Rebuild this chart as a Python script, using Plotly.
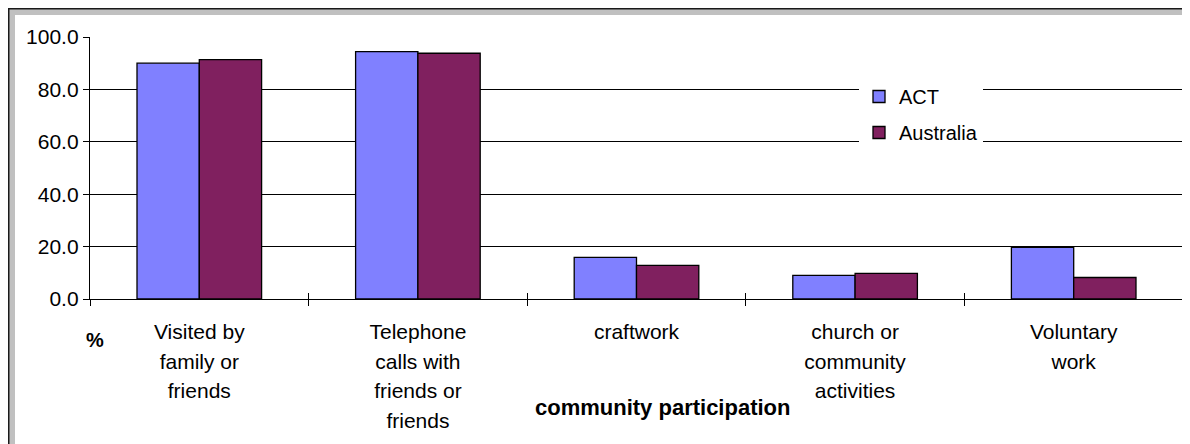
import plotly.graph_objects as go

categories = [
    "Visited by<br>family or<br>friends",
    "Telephone<br>calls with<br>friends or<br>friends",
    "craftwork",
    "church or<br>community<br>activities",
    "Voluntary<br>work",
]
act_values = [90.0, 94.4, 15.9, 9.0, 19.7]
australia_values = [91.4, 93.8, 12.8, 9.8, 8.2]

# the page body has an 8px margin, so the figure starts at (8, 8) in the window
OFF = 8
W, H = 1190 - OFF, 444 - OFF
PLOT_L, PLOT_R, PLOT_T, PLOT_B = 90 - OFF, 1183 - OFF, 37 - OFF, 299 - OFF
FONT = "Liberation Sans, Arial, sans-serif"
LABEL_PX = 21


def px(x):
    # window pixel -> paper x
    return (x - OFF - PLOT_L) / (PLOT_R - PLOT_L)


def py(y):
    # window pixel -> paper y
    return (PLOT_B - (y - OFF)) / (PLOT_B - PLOT_T)


def frame_rect(x0, y0, x1, y1, color):
    return dict(
        type="rect", xref="paper", yref="paper",
        x0=px(x0), x1=px(x1), y0=py(y0), y1=py(y1),
        fillcolor=color, line={"width": 0}, layer="below",
    )


def spaced(label):
    # wider line spacing than plotly's default: big base font, smaller spans
    lines = label.split("<br>")
    return "<br>".join(
        f'<span style="font-size:{LABEL_PX}px">{ln}</span>' for ln in lines
    )


tick_text = [spaced(c) for c in categories]

fig = go.Figure()

fig.add_trace(
    go.Bar(
        x=categories,
        y=act_values,
        name="ACT",
        marker={"color": "#8080FF", "line": {"color": "black", "width": 1.3}},
        legendgroup="act",
    )
)
fig.add_trace(
    go.Bar(
        x=categories,
        y=australia_values,
        name="Australia",
        marker={"color": "#80205F", "line": {"color": "black", "width": 1.3}},
        legendgroup="aus",
    )
)
# empty trace so the overlay axis (inner half of the cross ticks) is drawn
fig.add_trace(
    go.Scatter(x=[], y=[], xaxis="x2", yaxis="y", showlegend=False, hoverinfo="skip")
)

fig.update_layout(
    width=W,
    height=H,
    margin={"l": PLOT_L, "r": W - PLOT_R, "t": PLOT_T, "b": H - PLOT_B},
    paper_bgcolor="white",
    plot_bgcolor="white",
    barmode="group",
    bargap=0.43,
    bargroupgap=0,
    font={"family": FONT, "size": 20, "color": "black"},
    legend={
        "x": px(859),
        "y": py(77),
        "xanchor": "left",
        "yanchor": "top",
        "bgcolor": "white",
        "font": {"size": 20},
        "tracegroupgap": 7,
        "traceorder": "grouped",
    },
    xaxis={
        "type": "category",
        "tickmode": "array",
        "tickvals": categories,
        "ticktext": tick_text,
        "showline": True,
        "linecolor": "black",
        "linewidth": 1.3,
        "ticks": "outside",
        "ticklen": 6,
        "tickwidth": 1.3,
        "tickcolor": "black",
        "tickson": "boundaries",
        "showgrid": False,
        "ticklabelstandoff": 12,
        "tickfont": {"size": 22.7},
    },
    xaxis2={
        "overlaying": "x",
        "anchor": "y",
        "range": [-0.5, 4.5],
        "tickmode": "array",
        "tickvals": [-0.5, 0.5, 1.5, 2.5, 3.5, 4.5],
        "side": "bottom",
        "ticks": "inside",
        "ticklen": 6,
        "tickwidth": 1.3,
        "tickcolor": "black",
        "showticklabels": False,
        "showgrid": False,
        "zeroline": False,
        "showline": False,
    },
    yaxis={
        "range": [0, 100],
        "dtick": 20,
        "tickformat": ".1f",
        "showline": True,
        "linecolor": "black",
        "linewidth": 1.3,
        "ticks": "outside",
        "ticklen": 6,
        "tickwidth": 1.3,
        "tickcolor": "black",
        "showgrid": True,
        "gridcolor": "black",
        "gridwidth": 1.3,
        "zeroline": False,
        "tickfont": {"size": 21},
    },
    annotations=[
        dict(
            text="<b>%</b>", xref="paper", yref="paper",
            x=px(95), y=py(340), showarrow=False,
            xanchor="center", yanchor="middle", font={"size": 20},
        ),
        dict(
            text="<b>community participation</b>", xref="paper", yref="paper",
            x=px(662), y=py(407), showarrow=False,
            xanchor="center", yanchor="middle", font={"size": 22},
        ),
    ],
    shapes=[
        frame_rect(9, 9, 1190, 15, "#c0c0c0"),
        frame_rect(9, 9, 15, 444, "#c0c0c0"),
        frame_rect(1186, 9, 1190, 444, "#c0c0c0"),
        frame_rect(8, 8, 1190, 9.5, "#1a1a1a"),
        frame_rect(8, 8, 9.5, 444, "#1a1a1a"),
    ],
)

fig.write_html("out.html")
